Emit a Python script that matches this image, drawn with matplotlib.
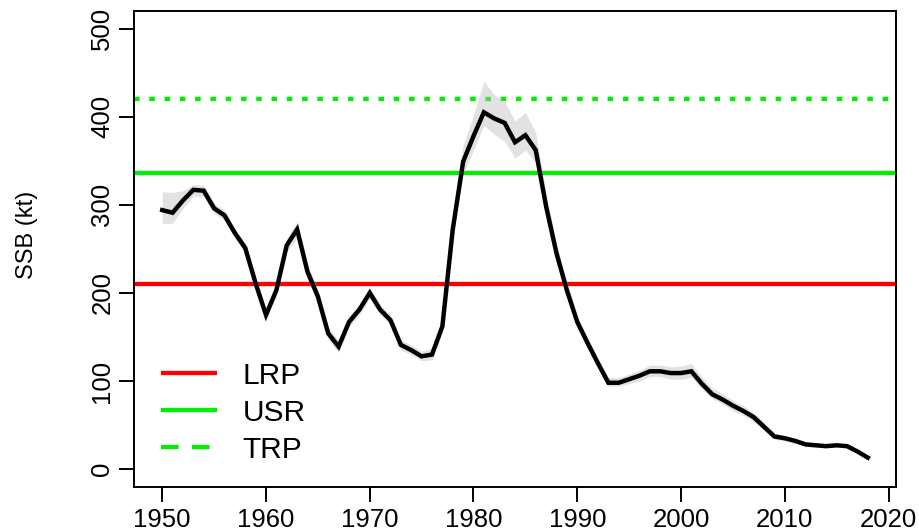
import matplotlib
matplotlib.use("Agg")
import matplotlib.pyplot as plt
from matplotlib.lines import Line2D
import numpy as np

plt.rcParams['font.family'] = ['Liberation Sans', 'DejaVu Sans']
plt.rcParams['lines.scale_dashes'] = False

years = list(range(1950, 2019))
ssb = [294, 291, 305, 317, 316, 296, 288, 268, 251, 211,
       175, 203, 254, 272, 224, 196, 154, 139, 167, 181,
       200, 181, 169, 141, 135, 128, 130, 162, 272, 349,
       378, 405, 398, 393, 371, 379, 362, 298, 245, 203,
       167, 143, 120, 98, 98, 102, 106, 111, 111, 109,
       109, 111, 97, 85, 79, 72, 66, 59, 48, 37,
       35, 32, 28, 27, 26, 27, 26, 20, 13]
ssb_lo = [279, 279, 296, 310, 309, 290, 283, 262, 245, 205,
          169, 197, 247, 262, 215, 188, 147, 132, 161, 175,
          194, 175, 164, 135, 130, 123, 124, 155, 260, 335,
          362, 390, 380, 372, 353, 362, 348, 287, 236, 196,
          160, 137, 115, 94, 94, 97, 100, 105, 105, 102,
          102, 104, 91, 80, 74, 66, 61, 54, 44, 34,
          32, 29, 26, 25, 25, 25, 25, 19, 12]
ssb_hi = [315, 314, 316, 323, 322, 302, 294, 273, 256, 217,
          181, 209, 262, 281, 233, 204, 161, 146, 174, 187,
          206, 187, 175, 147, 141, 134, 137, 170, 285, 368,
          402, 440, 425, 418, 395, 405, 382, 312, 256, 212,
          174, 149, 126, 104, 104, 108, 112, 118, 118, 116,
          117, 120, 105, 92, 86, 78, 72, 64, 53, 41,
          38, 35, 31, 29, 28, 29, 28, 22, 14]

ref_names = ['LRP', 'USR', 'TRP']
ref_values = [210, 336, 420]
ref_colors = ['#ff0000', '#00ee00', '#00ee00']

xticks = [1950, 1960, 1970, 1980, 1990, 2000, 2010, 2020]
yticks = [0, 100, 200, 300, 400, 500]

fig = plt.figure(figsize=(9.2, 5.31), dpi=100)
ax = fig.add_axes([134/920, 1 - 486.7/531, (896-134)/920, (486.7-11)/531])

lw = 3.1
ax.axhline(ref_values[0], color=ref_colors[0], lw=lw, solid_capstyle='butt', zorder=2)
ax.axhline(ref_values[1], color=ref_colors[1], lw=lw, solid_capstyle='butt', zorder=2)
ax.axhline(ref_values[2], color=ref_colors[2], lw=lw, dashes=(4.0, 7.0),
           dash_capstyle='butt', zorder=2)

ax.fill_between(years, ssb_lo, ssb_hi, color='#b8b8b8', alpha=0.4, lw=0, zorder=3)
ax.plot(years, ssb, color='black', lw=3.2, solid_joinstyle='miter', zorder=4)

ax.set_xlim(1947.28, 2020.72)
ax.set_ylim(-20, 520)
ax.set_xticks(xticks)
ax.set_yticks(yticks)
ax.tick_params(axis='both', direction='out', length=10.6, width=1.4,
               labelsize=18.5, colors='black')
ax.tick_params(axis='x', pad=4.5)
ax.tick_params(axis='y', pad=3.5, labelrotation=90)
for lab in ax.get_yticklabels():
    lab.set_va('center')
for sp in ax.spines.values():
    sp.set_linewidth(1.4)

ax.set_ylabel('SSB (kt)', fontsize=17)
ax.yaxis.set_label_coords(-0.126, 0.53)

handles = [
    Line2D([], [], color=ref_colors[0], lw=lw, solid_capstyle='butt'),
    Line2D([], [], color=ref_colors[1], lw=lw, solid_capstyle='butt'),
    Line2D([], [], color=ref_colors[2], lw=lw, dashes=(12.7, 9.6), dash_capstyle='butt'),
]
ax.legend(handles, ref_names, loc='center left', bbox_to_anchor=(0.035, 0.1556),
          frameon=False, fontsize=21.5, handlelength=1.9, handletextpad=0.85,
          labelspacing=0.3, borderpad=0, borderaxespad=0)

fig.savefig('out.png', dpi=100)
